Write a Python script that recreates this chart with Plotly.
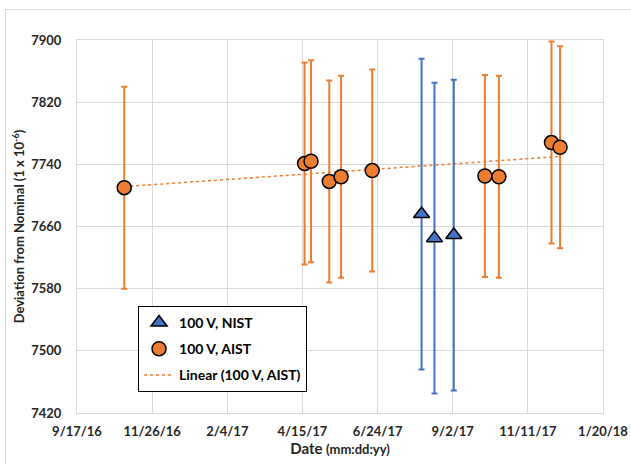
import numpy as np
import pandas as pd
import plotly.graph_objects as go

# AIST data
aist_dates = ["2016-10-31", "2017-04-17", "2017-04-23", "2017-05-10", "2017-05-21",
              "2017-06-19", "2017-10-02", "2017-10-15", "2017-12-03", "2017-12-11"]
aist_values = [7710, 7741, 7744, 7718, 7724, 7732, 7725, 7724, 7768, 7762]
aist_err = [130, 130, 130, 130, 130, 130, 130, 130, 130, 130]

# NIST data
nist_dates = ["2017-08-04", "2017-08-16", "2017-09-03"]
nist_values = [7676, 7645, 7649]
nist_err = [200, 200, 200]

x_ticks = ["2016-09-17", "2016-11-26", "2017-02-04", "2017-04-15", "2017-06-24",
           "2017-09-02", "2017-11-11", "2018-01-20"]

ORANGE = "#ED7D31"
BLUE = "#4472C4"
FONT = "Lato"
TXT = "#262626"

# Linear trendline for AIST
ad = pd.to_datetime(aist_dates)
days = (ad - ad[0]).days.values.astype(float)
slope, intercept = np.polyfit(days, np.array(aist_values, dtype=float), 1)
trend_x = [ad[0], ad[-1]]
trend_y = [intercept, intercept + slope * days[-1]]

fig = go.Figure()

fig.add_trace(go.Scatter(
    x=trend_x, y=trend_y, mode="lines", name="Linear (100 V, AIST)",
    line=dict(color=ORANGE, width=1.5, dash="dot"),
    legendrank=3, legendgroup="c",
))
fig.add_trace(go.Scatter(
    x=nist_dates, y=nist_values, mode="markers", name="100 V, NIST",
    marker=dict(symbol="triangle-up", size=14, color=BLUE, line=dict(color="black", width=1.5)),
    error_y=dict(type="data", array=nist_err, color=BLUE, thickness=2, width=3),
    legendrank=1, legendgroup="a",
))
fig.add_trace(go.Scatter(
    x=aist_dates, y=aist_values, mode="markers", name="100 V, AIST",
    marker=dict(symbol="circle", size=14, color=ORANGE, line=dict(color="black", width=1.5)),
    error_y=dict(type="data", array=aist_err, color=ORANGE, thickness=2, width=3),
    legendrank=2, legendgroup="b",
))

fig.update_layout(
    width=631, height=464,
    margin=dict(l=77, r=28, t=40, b=51),
    plot_bgcolor="white", paper_bgcolor="white",
    font=dict(family=FONT, size=13, color=TXT),
    showlegend=True,
    legend=dict(
        x=0.116, y=0.287, xanchor="left", yanchor="top",
        bordercolor="black", borderwidth=1, bgcolor="white",
        font=dict(family=FONT, size=14, color="black", weight="bold"),
        traceorder="grouped", tracegroupgap=5, itemwidth=30,
    ),
)

fig.update_xaxes(
    type="date", range=[x_ticks[0], x_ticks[-1]],
    tickvals=x_ticks, tickformat="%-m/%-d/%y", automargin=False,
    showgrid=True, gridcolor="#d9d9d9", gridwidth=1,
    showline=True, linecolor="#d9d9d9", mirror=True,
    ticks="", ticklabelstandoff=6,
    tickfont=dict(family=FONT, size=13, color=TXT, weight="bold"),
    title=dict(text="Date <span style='font-size:13px'>(mm:dd:yy)</span>",
               font=dict(family=FONT, size=15, color=TXT, weight="bold"), standoff=4),
    zeroline=False,
)
fig.update_yaxes(
    range=[7420, 7900], dtick=80, tick0=7420, automargin=False,
    showgrid=True, gridcolor="#d9d9d9", gridwidth=1,
    showline=True, linecolor="#d9d9d9", mirror=True,
    ticks="", ticklabelstandoff=12,
    tickfont=dict(family=FONT, size=13, color=TXT, weight="bold"),
    title=dict(text="Deviation from Nominal (1 x 10<sup>-6</sup>)",
               font=dict(family=FONT, size=13, color=TXT, weight="bold"), standoff=3),
    zeroline=False,
)

post = (
    "document.body.style.margin='0';document.body.style.padding='0';"
    "var b=document.createElement('div');"
    "b.style.cssText='position:absolute;left:5px;top:9px;width:640px;height:470px;"
    "border-top:1px solid #d9d9d9;border-left:1px solid #d9d9d9;pointer-events:none;z-index:10;';"
    "document.body.appendChild(b);"
)
fig.write_html("out.html", config={"displayModeBar": False}, post_script=post)
